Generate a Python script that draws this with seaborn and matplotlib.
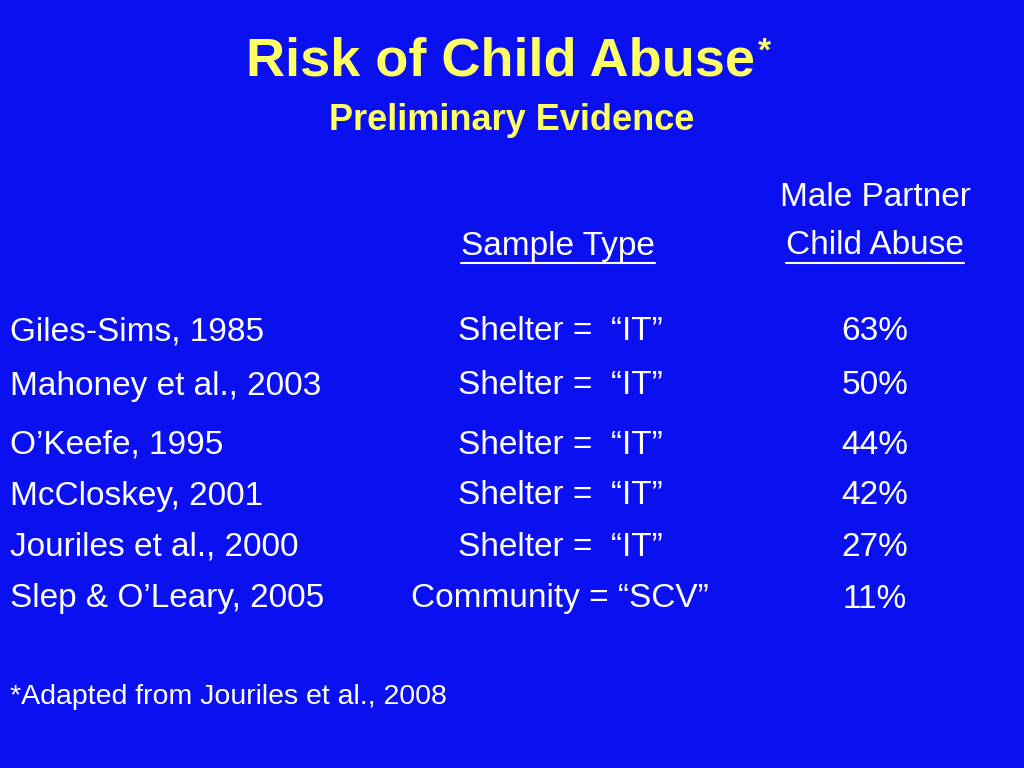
import matplotlib
matplotlib.use("Agg")
import matplotlib.pyplot as plt
import seaborn as sns

studies = ["Giles-Sims, 1985", "Mahoney et al., 2003", "O\u2019Keefe, 1995",
           "McCloskey, 2001", "Jouriles et al., 2000", "Slep & O\u2019Leary, 2005"]
samples = ["Shelter =  \u201cIT\u201d"] * 5 + ["Community = \u201cSCV\u201d"]
abuse_pct = [63, 50, 44, 42, 27, 11]
row_y = [332, 386, 445, 496, 547, 599]

BG = "#0A10F0"
YEL = "#FFFF66"
sns.set_theme(style="white", rc={"figure.facecolor": BG, "axes.facecolor": BG})
body = "Liberation Sans"

fig = plt.figure(figsize=(10.24, 7.68), dpi=100)
ax = fig.add_axes([0, 0, 1, 1])
ax.set_xlim(0, 1024); ax.set_ylim(768, 0); ax.axis("off")

title = ax.text(500, 62, "Risk of Child Abuse", ha="center", va="center", color=YEL,
                fontsize=39, fontweight="bold", family=body)
ax.text(512, 120, "Preliminary Evidence", ha="center", va="center", color=YEL,
        fontsize=26, fontweight="bold", family=body)

kw = dict(color="white", fontsize=24, family=body, va="center")
ax.text(875, 198, "Male Partner", ha="center", **kw)
hdrs = [ax.text(558, 246, "Sample Type", ha="center", **kw),
        ax.text(875, 246, "Child Abuse", ha="center", **kw)]

for s, smp, p, y in zip(studies, samples, abuse_pct, row_y):
    ax.text(10, y, s, ha="left", **kw)
    ax.text(560, y, smp, ha="center", **kw)
    ax.text(875, y, f"{p}%", ha="center", **kw)

ax.text(10, 697, "*Adapted from Jouriles et al., 2008", ha="left", color="white",
        fontsize=20.5, family=body, va="center")

fig.canvas.draw()
r = fig.canvas.get_renderer()
inv = ax.transData.inverted()
tb = title.get_window_extent(r)
tx1, _ = inv.transform((tb.x1, tb.y1))
ax.text(tx1 + 3, 52, "*", ha="left", va="center", color=YEL, fontsize=24,
        fontweight="bold", family=body)
for t in hdrs:
    bb = t.get_window_extent(r)
    (x0, _), (x1, _) = inv.transform([(bb.x0, bb.y0), (bb.x1, bb.y0)])
    ax.plot([x0, x1], [263, 263], color="white", lw=1.5)

fig.savefig("out.png", dpi=100, facecolor=BG)
